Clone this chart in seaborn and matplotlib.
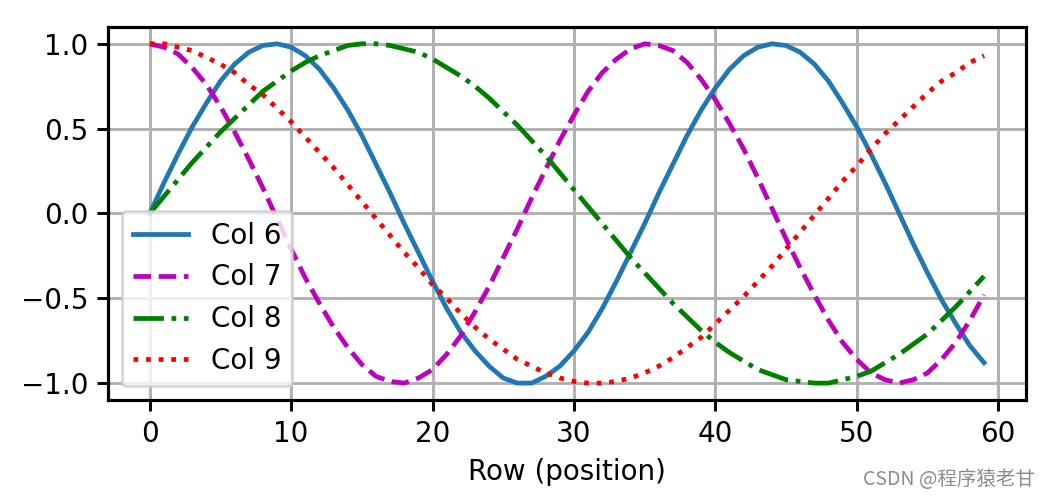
import numpy as np
import pandas as pd
import matplotlib
matplotlib.use('Agg')
import matplotlib.pyplot as plt
import seaborn as sns

# values, rows 0..59
rows = list(range(60))

col6 = [0.00, 0.18, 0.35, 0.51, 0.65, 0.78, 0.88, 0.95, 0.99, 1.00,
        0.98, 0.93, 0.85, 0.74, 0.61, 0.46, 0.29, 0.12, -0.06, -0.23,
        -0.40, -0.56, -0.70, -0.81, -0.90, -0.97, -1.00, -1.00, -0.96, -0.90,
        -0.81, -0.70, -0.56, -0.40, -0.23, -0.06, 0.12, 0.29, 0.46, 0.61,
        0.74, 0.85, 0.93, 0.98, 1.00, 0.99, 0.95, 0.88, 0.78, 0.65,
        0.51, 0.35, 0.18, 0.00, -0.18, -0.35, -0.51, -0.65, -0.78, -0.88]

col7 = [1.00, 0.98, 0.94, 0.86, 0.76, 0.63, 0.48, 0.32, 0.15, -0.03,
        -0.21, -0.38, -0.53, -0.67, -0.79, -0.89, -0.96, -0.99, -1.00, -0.97,
        -0.92, -0.83, -0.72, -0.58, -0.43, -0.26, -0.09, 0.09, 0.26, 0.43,
        0.58, 0.72, 0.83, 0.91, 0.97, 1.00, 0.99, 0.96, 0.89, 0.79,
        0.67, 0.53, 0.38, 0.21, 0.03, -0.15, -0.32, -0.48, -0.63, -0.76,
        -0.86, -0.94, -0.98, -1.00, -0.98, -0.94, -0.86, -0.76, -0.63, -0.48]

col8 = [0.00, 0.10, 0.20, 0.30, 0.39, 0.48, 0.56, 0.64, 0.72, 0.78,
        0.84, 0.89, 0.93, 0.96, 0.99, 1.00, 1.00, 0.99, 0.97, 0.95,
        0.91, 0.86, 0.81, 0.75, 0.68, 0.60, 0.52, 0.43, 0.34, 0.24,
        0.14, 0.04, -0.06, -0.16, -0.26, -0.35, -0.44, -0.53, -0.61, -0.69,
        -0.76, -0.82, -0.87, -0.92, -0.95, -0.98, -0.99, -1.00, -1.00, -0.98,
        -0.96, -0.93, -0.88, -0.83, -0.77, -0.71, -0.63, -0.55, -0.46, -0.37]

col9 = [1.00, 1.00, 0.98, 0.96, 0.92, 0.88, 0.83, 0.76, 0.70, 0.62,
        0.54, 0.45, 0.36, 0.27, 0.17, 0.07, -0.03, -0.13, -0.23, -0.32,
        -0.42, -0.50, -0.59, -0.67, -0.74, -0.80, -0.86, -0.90, -0.94, -0.97,
        -0.99, -1.00, -1.00, -0.99, -0.97, -0.94, -0.90, -0.85, -0.79, -0.73,
        -0.65, -0.57, -0.49, -0.40, -0.31, -0.21, -0.11, -0.01, 0.09, 0.19,
        0.28, 0.38, 0.47, 0.55, 0.63, 0.71, 0.78, 0.83, 0.89, 0.93]

labels = ['Col 6', 'Col 7', 'Col 8', 'Col 9']

df = pd.DataFrame({'row': rows, 'Col 6': col6, 'Col 7': col7,
                   'Col 8': col8, 'Col 9': col9})

colors = ['#1f77b4', 'm', 'g', 'r']
styles = ['-', '--', '-.', ':']

plt.rcParams['font.size'] = 10.5

fig, ax = plt.subplots(figsize=(1051 / 190, 497 / 190), dpi=190)
fig.subplots_adjust(left=0.1028, right=0.976, bottom=0.195, top=0.946)

for lab, c, ls in zip(labels, colors, styles):
    sns.lineplot(data=df, x='row', y=lab, color=c, linestyle=ls,
                 linewidth=1.8, label=lab, ax=ax)

ax.grid(True, color='#b0b0b0', linewidth=1.1)
ax.set_xlabel('Row (position)')
ax.set_ylabel('')
ax.set_xticks([0, 10, 20, 30, 40, 50, 60])
ax.set_yticks([-1.0, -0.5, 0.0, 0.5, 1.0])
ax.tick_params(width=1.1, length=4)
for s in ax.spines.values():
    s.set_linewidth(1.2)
ax.legend(loc='lower left')

fig.text(0.985, 0.035, 'CSDN @程序猿老甘', ha='right', va='center',
         fontsize=7.4, color='#8c8c8c',
         family=['Noto Sans CJK SC', 'DejaVu Sans'])

fig.savefig('out.png', dpi=190)
